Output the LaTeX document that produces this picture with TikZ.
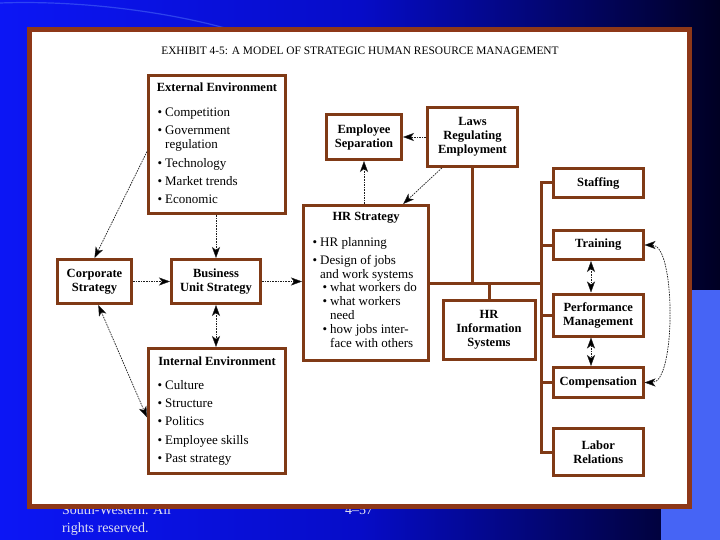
\documentclass[tikz,border=0pt]{standalone}
\usepackage{fontspec}
\setmainfont{Liberation Serif}
\usetikzlibrary{arrows.meta,calc}
\definecolor{brn}{RGB}{128,58,22}
\definecolor{frm}{RGB}{142,56,24}
\definecolor{bgl}{RGB}{12,22,245}
\definecolor{bgm}{RGB}{6,12,200}
\definecolor{bgr}{RGB}{0,0,35}
\definecolor{lite}{RGB}{70,100,245}
\definecolor{arr}{RGB}{30,30,30}
\definecolor{foottext}{RGB}{225,225,240}
\newcommand\myb{\llap{\textbullet\hspace{3pt}}}
\tikzset{
  box/.style={draw=brn, line width=3pt, fill=white, inner sep=0pt, align=center,
    font=\fontsize{12.5}{14}\selectfont\bfseries},
  txt/.style={anchor=west, inner sep=0pt, text height=9pt, text depth=3pt,
    font=\fontsize{13}{14}\selectfont},
  ttl/.style={inner sep=0pt, text height=9pt, text depth=3pt,
    font=\fontsize{12.5}{14}\selectfont\bfseries},
  busline/.style={draw=brn, line width=3pt},
  link/.style={draw=arr, line width=0.7pt, dash pattern=on 1.6pt off 1pt,
    -{Stealth[length=11pt,width=8pt,inset=3pt,fill=black,line width=0.4pt]}},
  dlink/.style={draw=arr, line width=0.7pt, dash pattern=on 1.6pt off 1pt,
    {Stealth[length=11pt,width=8pt,inset=3pt,fill=black,line width=0.4pt]}-{Stealth[length=11pt,width=8pt,inset=3pt,fill=black,line width=0.4pt]}},
  foot/.style={inner sep=0pt, text=foottext, font=\fontsize{14}{17}\selectfont},
}
\begin{document}
\begin{tikzpicture}[x=1pt,y=-1pt]
\useasboundingbox (0,0) rectangle (720,540);
% background
\shade[left color=bgl, right color=bgr, middle color=bgm] (0,0) rectangle (720,540);
\fill[lite] (661,290) rectangle (720,540);
\draw[color=lite, line width=1.2pt, opacity=0.6] (0,3) .. controls (80,0) and (170,12) .. (232,30);
% footer text (partly covered by frame)
\node[foot, anchor=base west] (f1) at (62,514) {South-Western. All};
\node[foot, anchor=base west] (f2) at (62,532) {rights reserved.};
\node[foot, anchor=base west] (f3) at (345,514) {4–57};
% frame
\draw[draw=frm, line width=5pt, fill=white] (29.5,29.5) rectangle (689.5,506.5);
\node[inner sep=0pt, font=\fontsize{11.4}{13}\selectfont] (title) at (360,51)
  {EXHIBIT 4-5: A MODEL OF STRATEGIC HUMAN RESOURCE MANAGEMENT};

% boxes
\node[box, minimum width=137pt, minimum height=138pt] (ext) at (217,144.5) {};
\node[box, minimum width=75pt, minimum height=45pt] (sep) at (364,137) {Employee\\Separation};
\node[box, minimum width=90pt, minimum height=59pt] (laws) at (472.5,137) {Laws\\Regulating\\Employment};
\node[box, minimum width=125pt, minimum height=155pt] (hrs) at (366,283) {};
\node[box, minimum width=74pt, minimum height=44pt] (corp) at (94.5,281.5) {Corporate\\Strategy};
\node[box, minimum width=89pt, minimum height=44pt] (bus) at (216,281.5) {Business\\Unit Strategy};
\node[box, minimum width=137pt, minimum height=125pt] (int) at (217,411) {};

% brown connectors
\coordinate (bx) at (541,0);
\draw[busline] (hrs.east) -- (hrs.east -| bx);
\node[box, minimum width=92pt, minimum height=59pt] (hris) at (489,330) {HR\\Information\\Systems};
\draw[busline] (laws.south) -- (laws.south |- hrs.east);
\draw[busline] (hris.north) -- (hris.north |- hrs.east);

\node[box, minimum width=89.5pt, minimum height=29pt] (staff) at (598.25,183) {Staffing};
\node[box, minimum width=89.5pt, minimum height=29pt] (train) at (598.25,245) {Training};
\node[box, minimum width=89.5pt, minimum height=42pt] (perf) at (598.25,315) {Performance\\Management};
\node[box, minimum width=89.5pt, minimum height=30pt] (comp) at (598.25,382.5) {Compensation};
\node[box, minimum width=89.5pt, minimum height=47pt] (lab) at (598.25,452) {Labor\\Relations};

\draw[busline] (staff.west) -| (lab.west -| bx) -- (lab.west);
\draw[busline] (train.west) -- (train.west -| bx);
\draw[busline] (perf.west) -- (perf.west -| bx);
\draw[busline] (comp.west) -- (comp.west -| bx);

% External environment text
\node[ttl] (extt) at (217,89) {External Environment};
\node[txt] (e1) at (165,114) {\myb Competition};
\node[txt] (e2) at (165,132) {\myb Government};
\node[txt] (e3) at (165,146) {regulation};
\node[txt] (e4) at (165,165) {\myb Technology};
\node[txt] (e5) at (165,183) {\myb Market trends};
\node[txt] (e6) at (165,201) {\myb Economic};

% Internal environment text
\node[ttl] (intt) at (217,362) {Internal Environment};
\node[txt] (i1) at (165,386) {\myb Culture};
\node[txt] (i2) at (165,404) {\myb Structure};
\node[txt] (i3) at (165,422) {\myb Politics};
\node[txt] (i4) at (165,441) {\myb Employee skills};
\node[txt] (i5) at (165,459) {\myb Past strategy};

% HR strategy text
\node[ttl] (hrst) at (366,218) {HR Strategy};
\node[txt] (h1) at (320,243) {\myb HR planning};
\node[txt] (h2) at (320,261) {\myb Design of jobs};
\node[txt] (h3) at (320,275) {and work systems};
\node[txt] (h4) at (330,288) {\myb what workers do};
\node[txt] (h5) at (330,302) {\myb what workers};
\node[txt] (h6) at (330,316) {need};
\node[txt] (h7) at (330,330) {\myb how jobs inter-};
\node[txt] (h8) at (330,344) {face with others};

% arrows
\draw[link] ($(ext.north west)!0.55!(ext.south west)$) -- (corp.north);
\draw[dlink] ($(corp.south west)!0.55!(corp.south east)$) -- ($(int.north west)!0.55!(int.south west)$);
\draw[link] (bus.north |- ext.south) -- (bus.north);
\draw[dlink] (bus.south) -- (bus.south |- int.north);
\draw[link] (corp.east) -- (bus.west);
\draw[link] (bus.east) -- (bus.east -| hrs.west);
\draw[link] (sep.south |- hrs.north) -- (sep.south);
\draw[link] (laws.west) -- (laws.west -| sep.east);
\draw[link] ($(laws.south west)!0.17!(laws.south east)$) -- ($(hrs.north west)!0.79!(hrs.north east)$);
\coordinate (ax) at (591,0);
\draw[dlink] (train.south -| ax) -- (perf.north -| ax);
\draw[dlink] (perf.south -| ax) -- (comp.north -| ax);
\draw[dlink] (train.east) .. controls (676,245) and (676,382.5) .. (comp.east);
\end{tikzpicture}
\end{document}
